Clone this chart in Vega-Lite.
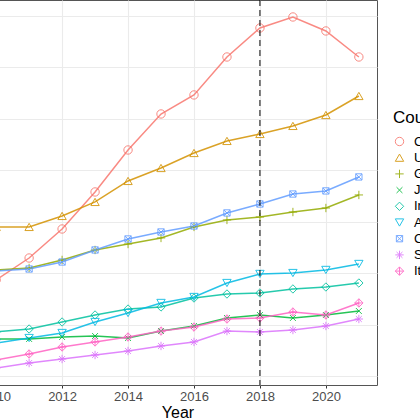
{
  "$schema": "https://vega.github.io/schema/vega-lite/v6.json",
  "width": 399,
  "height": 385,
  "autosize": "none",
  "padding": {"left": -22, "top": 0, "right": 43, "bottom": 35},
  "background": "white",
  "config": {
    "font": "Liberation Sans",
    "view": {"stroke": "#555555", "strokeWidth": 1}
  },
  "datasets": {
    "series": [
      {"Country": "China", "Year": 2010, "Value": 93.3},
      {"Country": "China", "Year": 2011, "Value": 114.7},
      {"Country": "China", "Year": 2012, "Value": 142.9},
      {"Country": "China", "Year": 2013, "Value": 178.9},
      {"Country": "China", "Year": 2014, "Value": 219.7},
      {"Country": "China", "Year": 2015, "Value": 254.7},
      {"Country": "China", "Year": 2016, "Value": 273.2},
      {"Country": "China", "Year": 2017, "Value": 310.1},
      {"Country": "China", "Year": 2018, "Value": 338.3},
      {"Country": "China", "Year": 2019, "Value": 349.0},
      {"Country": "China", "Year": 2020, "Value": 335.4},
      {"Country": "China", "Year": 2021, "Value": 310.1},
      {"Country": "USA", "Year": 2010, "Value": 144.9},
      {"Country": "USA", "Year": 2011, "Value": 144.9},
      {"Country": "USA", "Year": 2012, "Value": 155.6},
      {"Country": "USA", "Year": 2013, "Value": 169.2},
      {"Country": "USA", "Year": 2014, "Value": 189.6},
      {"Country": "USA", "Year": 2015, "Value": 202.2},
      {"Country": "USA", "Year": 2016, "Value": 216.8},
      {"Country": "USA", "Year": 2017, "Value": 228.5},
      {"Country": "USA", "Year": 2018, "Value": 235.3},
      {"Country": "USA", "Year": 2019, "Value": 243.1},
      {"Country": "USA", "Year": 2020, "Value": 253.7},
      {"Country": "USA", "Year": 2021, "Value": 272.2},
      {"Country": "Germany", "Year": 2010, "Value": 103.1},
      {"Country": "Germany", "Year": 2011, "Value": 105.0},
      {"Country": "Germany", "Year": 2012, "Value": 112.8},
      {"Country": "Germany", "Year": 2013, "Value": 122.5},
      {"Country": "Germany", "Year": 2014, "Value": 128.3},
      {"Country": "Germany", "Year": 2015, "Value": 134.2},
      {"Country": "Germany", "Year": 2016, "Value": 144.9},
      {"Country": "Germany", "Year": 2017, "Value": 151.7},
      {"Country": "Germany", "Year": 2018, "Value": 154.6},
      {"Country": "Germany", "Year": 2019, "Value": 159.4},
      {"Country": "Germany", "Year": 2020, "Value": 163.3},
      {"Country": "Germany", "Year": 2021, "Value": 176.0},
      {"Country": "Japan", "Year": 2010, "Value": 36.0},
      {"Country": "Japan", "Year": 2011, "Value": 36.0},
      {"Country": "Japan", "Year": 2012, "Value": 37.9},
      {"Country": "Japan", "Year": 2013, "Value": 38.9},
      {"Country": "Japan", "Year": 2014, "Value": 36.9},
      {"Country": "Japan", "Year": 2015, "Value": 43.7},
      {"Country": "Japan", "Year": 2016, "Value": 48.6},
      {"Country": "Japan", "Year": 2017, "Value": 56.4},
      {"Country": "Japan", "Year": 2018, "Value": 59.3},
      {"Country": "Japan", "Year": 2019, "Value": 56.4},
      {"Country": "Japan", "Year": 2020, "Value": 59.3},
      {"Country": "Japan", "Year": 2021, "Value": 63.2},
      {"Country": "India", "Year": 2010, "Value": 42.8},
      {"Country": "India", "Year": 2011, "Value": 45.7},
      {"Country": "India", "Year": 2012, "Value": 52.5},
      {"Country": "India", "Year": 2013, "Value": 59.3},
      {"Country": "India", "Year": 2014, "Value": 65.1},
      {"Country": "India", "Year": 2015, "Value": 67.1},
      {"Country": "India", "Year": 2016, "Value": 75.8},
      {"Country": "India", "Year": 2017, "Value": 79.7},
      {"Country": "India", "Year": 2018, "Value": 80.7},
      {"Country": "India", "Year": 2019, "Value": 84.6},
      {"Country": "India", "Year": 2020, "Value": 86.5},
      {"Country": "India", "Year": 2021, "Value": 90.4},
      {"Country": "Australia", "Year": 2010, "Value": 32.1},
      {"Country": "Australia", "Year": 2011, "Value": 36.9},
      {"Country": "Australia", "Year": 2012, "Value": 41.8},
      {"Country": "Australia", "Year": 2013, "Value": 52.5},
      {"Country": "Australia", "Year": 2014, "Value": 61.2},
      {"Country": "Australia", "Year": 2015, "Value": 71.0},
      {"Country": "Australia", "Year": 2016, "Value": 76.8},
      {"Country": "Australia", "Year": 2017, "Value": 90.4},
      {"Country": "Australia", "Year": 2018, "Value": 99.2},
      {"Country": "Australia", "Year": 2019, "Value": 100.1},
      {"Country": "Australia", "Year": 2020, "Value": 103.1},
      {"Country": "Australia", "Year": 2021, "Value": 108.9},
      {"Country": "Canada", "Year": 2010, "Value": 102.1},
      {"Country": "Canada", "Year": 2011, "Value": 104.0},
      {"Country": "Canada", "Year": 2012, "Value": 110.8},
      {"Country": "Canada", "Year": 2013, "Value": 122.5},
      {"Country": "Canada", "Year": 2014, "Value": 133.2},
      {"Country": "Canada", "Year": 2015, "Value": 140.0},
      {"Country": "Canada", "Year": 2016, "Value": 145.8},
      {"Country": "Canada", "Year": 2017, "Value": 158.5},
      {"Country": "Canada", "Year": 2018, "Value": 167.2},
      {"Country": "Canada", "Year": 2019, "Value": 176.9},
      {"Country": "Canada", "Year": 2020, "Value": 179.9},
      {"Country": "Canada", "Year": 2021, "Value": 193.5},
      {"Country": "South Korea", "Year": 2010, "Value": 7.8},
      {"Country": "South Korea", "Year": 2011, "Value": 12.6},
      {"Country": "South Korea", "Year": 2012, "Value": 16.5},
      {"Country": "South Korea", "Year": 2013, "Value": 20.4},
      {"Country": "South Korea", "Year": 2014, "Value": 24.3},
      {"Country": "South Korea", "Year": 2015, "Value": 29.2},
      {"Country": "South Korea", "Year": 2016, "Value": 33.1},
      {"Country": "South Korea", "Year": 2017, "Value": 43.7},
      {"Country": "South Korea", "Year": 2018, "Value": 42.8},
      {"Country": "South Korea", "Year": 2019, "Value": 44.7},
      {"Country": "South Korea", "Year": 2020, "Value": 48.6},
      {"Country": "South Korea", "Year": 2021, "Value": 55.4},
      {"Country": "Italy", "Year": 2010, "Value": 15.6},
      {"Country": "Italy", "Year": 2011, "Value": 21.4},
      {"Country": "Italy", "Year": 2012, "Value": 28.2},
      {"Country": "Italy", "Year": 2013, "Value": 33.1},
      {"Country": "Italy", "Year": 2014, "Value": 37.9},
      {"Country": "Italy", "Year": 2015, "Value": 43.7},
      {"Country": "Italy", "Year": 2016, "Value": 47.6},
      {"Country": "Italy", "Year": 2017, "Value": 55.4},
      {"Country": "Italy", "Year": 2018, "Value": 56.4},
      {"Country": "Italy", "Year": 2019, "Value": 62.2},
      {"Country": "Italy", "Year": 2020, "Value": 59.3},
      {"Country": "Italy", "Year": 2021, "Value": 71.0}
    ],
    "cutoff": [{"Year": 2018}]
  },
  "layer": [
    {
      "data": {"name": "series"},
      "mark": {"type": "line", "strokeWidth": 1.5, "opacity": 0.85},
      "encoding": {
        "x": {
          "field": "Year", "type": "quantitative",
          "scale": {"domain": [2009.45, 2021.55], "nice": false, "zero": false},
          "axis": {
            "title": "Year",
            "values": [2010, 2011, 2012, 2013, 2014, 2015, 2016, 2017, 2018, 2019, 2020, 2021],
            "format": "d",
            "labelExpr": "datum.value % 2 == 0 ? datum.label : ''",
            "labelOverlap": false,
            "labelFlush": false,
            "labelFontSize": 13,
            "labelColor": "#4D4D4D",
            "labelPadding": 2,
            "tickSize": 3,
            "tickColor": {"condition": {"test": "datum.value % 2 == 1", "value": "transparent"}, "value": "#333333"},
            "gridColor": "#EBEBEB",
            "gridWidth": {"condition": {"test": "datum.value % 2 == 1", "value": 0.6}, "value": 1.1},
            "domain": false,
            "titleFontSize": 16,
            "titleFontWeight": "normal",
            "titleColor": "black",
            "titlePadding": 1
          }
        },
        "y": {
          "field": "Value", "type": "quantitative",
          "scale": {"domain": [-8.75, 365.5], "nice": false, "zero": false},
          "axis": {
            "title": null,
            "values": [0, 50, 100, 150, 200, 250, 300, 350],
            "labels": false,
            "ticks": false,
            "domain": false,
            "gridColor": "#EBEBEB",
            "gridWidth": 1
          }
        },
        "color": {
          "field": "Country", "type": "nominal",
          "scale": {
            "domain": ["China", "USA", "Germany", "Japan", "India", "Australia", "Canada", "South Korea", "Italy"],
            "range": ["#F8766D", "#D39200", "#93AA00", "#00BA38", "#00C19F", "#00B9E3", "#619CFF", "#DB72FB", "#FF61C3"]
          }
        }
      }
    },
    {
      "data": {"name": "series"},
      "mark": {"type": "point", "filled": false, "size": 70, "strokeWidth": 1, "opacity": 0.85},
      "encoding": {
        "x": {"field": "Year", "type": "quantitative"},
        "y": {"field": "Value", "type": "quantitative"},
        "color": {
          "field": "Country", "type": "nominal",
          "legend": {
            "orient": "none",
            "legendX": 415,
            "legendY": 110,
            "title": "Country",
            "titleFontSize": 17,
            "titleFontWeight": "normal",
            "titleColor": "black",
            "titlePadding": 8,
            "labelFontSize": 13,
            "labelColor": "black",
            "labelOffset": 8,
            "symbolSize": 70,
            "symbolStrokeWidth": 1,
            "rowPadding": 2.2,
            "padding": 0
          }
        },
        "shape": {
          "field": "Country", "type": "nominal",
          "scale": {
            "domain": ["China", "USA", "Germany", "Japan", "India", "Australia", "Canada", "South Korea", "Italy"],
            "range": [
              "circle",
              "triangle-up",
              "M-1,0L1,0M0,-1L0,1",
              "M-0.7,-0.7L0.7,0.7M-0.7,0.7L0.7,-0.7",
              "diamond",
              "triangle-down",
              "M-0.75,-0.75L0.75,-0.75L0.75,0.75L-0.75,0.75ZM-0.75,-0.75L0.75,0.75M-0.75,0.75L0.75,-0.75",
              "M-1,0L1,0M0,-1L0,1M-0.7,-0.7L0.7,0.7M-0.7,0.7L0.7,-0.7",
              "M0,-1L1,0L0,1L-1,0ZM-1,0L1,0M0,-1L0,1"
            ]
          }
        }
      }
    },
    {
      "data": {"name": "cutoff"},
      "mark": {"type": "rule", "color": "black", "strokeWidth": 1, "strokeDash": [6, 4]},
      "encoding": {
        "x": {"field": "Year", "type": "quantitative"}
      }
    }
  ]
}
